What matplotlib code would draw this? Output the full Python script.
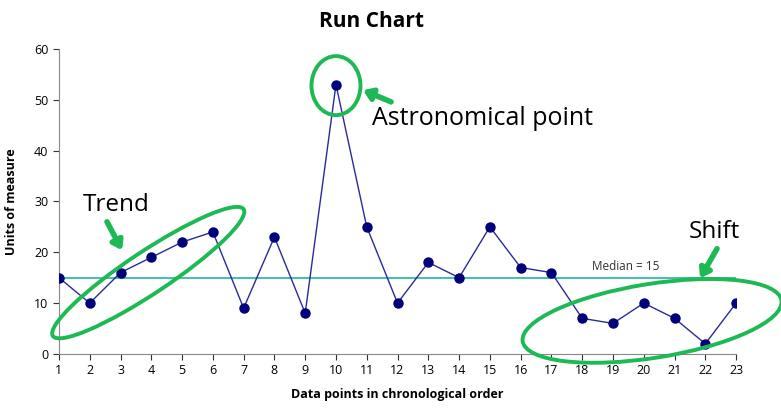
import numpy as np
import matplotlib.pyplot as plt
from matplotlib.patches import Ellipse
from matplotlib.transforms import ScaledTranslation

plt.rcParams['font.family'] = ['Open Sans', 'DejaVu Sans']

# data points in chronological order
points = list(range(1, 24))
values = [15, 10, 16, 19, 22, 24, 9, 23, 8, 53, 25, 10, 18, 15, 25, 17, 16, 7, 6, 10, 7, 2, 10]
median = np.median(values)

navy = '#00007a'
green = '#1db954'
teal = '#4dbdb5'
grey = '#333333'

fig = plt.figure(figsize=(7.81, 4.12), dpi=100)
ax = fig.add_axes([0.0755, 0.141, 0.867, 0.740])

# median reference line
ax.plot([points[0], points[-1]], [median, median], color=teal, lw=1.5, zorder=1)
ax.text(19.4, median + 2.2, 'Median = %d' % median, fontsize=8.5, color=grey,
        ha='center', va='center')

# run chart
ax.plot(points, values, color='#2a2a9a', lw=1, marker='o', markersize=6.5,
        markerfacecolor=navy, markeredgecolor=navy, zorder=3)

ax.set_xlim(1, 23)
ax.set_ylim(0, 60)
ax.set_xticks(points)
ax.set_yticks(range(0, 61, 10))
ax.tick_params(axis='both', labelsize=9, colors=grey, length=4, direction='out')
ax.tick_params(axis='both', labelcolor='black')
for side in ['top', 'right']:
    ax.spines[side].set_visible(False)
for side in ['left', 'bottom']:
    ax.spines[side].set_color('#888888')
    ax.spines[side].set_linewidth(0.8)

ax.set_title('Run Chart', fontsize=15, fontweight='bold', pad=16, x=0.462)
ax.set_xlabel('Data points in chronological order', fontsize=9, fontweight='bold', labelpad=8)
ax.set_ylabel('Units of measure', fontsize=9, fontweight='bold', labelpad=12)


def ring(x, y, w, h, angle):
    # ellipse sized in inches, anchored at a data point
    tr = fig.dpi_scale_trans + ScaledTranslation(x, y, ax.transData)
    e = Ellipse((0, 0), w, h, angle=angle, fill=False, edgecolor=green,
                lw=2.8, transform=tr, clip_on=False, zorder=4)
    ax.add_patch(e)


def pointer(x0, y0, x1, y1):
    ax.annotate('', xy=(x1, y1), xytext=(x0, y0), annotation_clip=False,
                arrowprops=dict(arrowstyle='-|>,head_length=0.5,head_width=0.35',
                                color=green, lw=4, shrinkA=0, shrinkB=0))


# trend
ring(3.9, 16.0, 2.29, 0.42, 33.6)
pointer(2.56, 26.0, 3.05, 20.4)
ax.text(2.85, 29.3, 'Trend', fontsize=17.5, ha='center', va='center')

# astronomical point
ring(10.0, 52.8, 0.49, 0.59, 0)
pointer(11.79, 49.6, 10.88, 51.9)
ax.text(11.17, 46.4, 'Astronomical point', fontsize=18, ha='left', va='center')

# shift
ring(20.27, 6.5, 2.62, 0.74, 9)
pointer(22.38, 20.7, 21.83, 14.9)
ax.text(22.29, 24.0, 'Shift', fontsize=17.5, ha='center', va='center')

fig.savefig('out.png', dpi=100)
